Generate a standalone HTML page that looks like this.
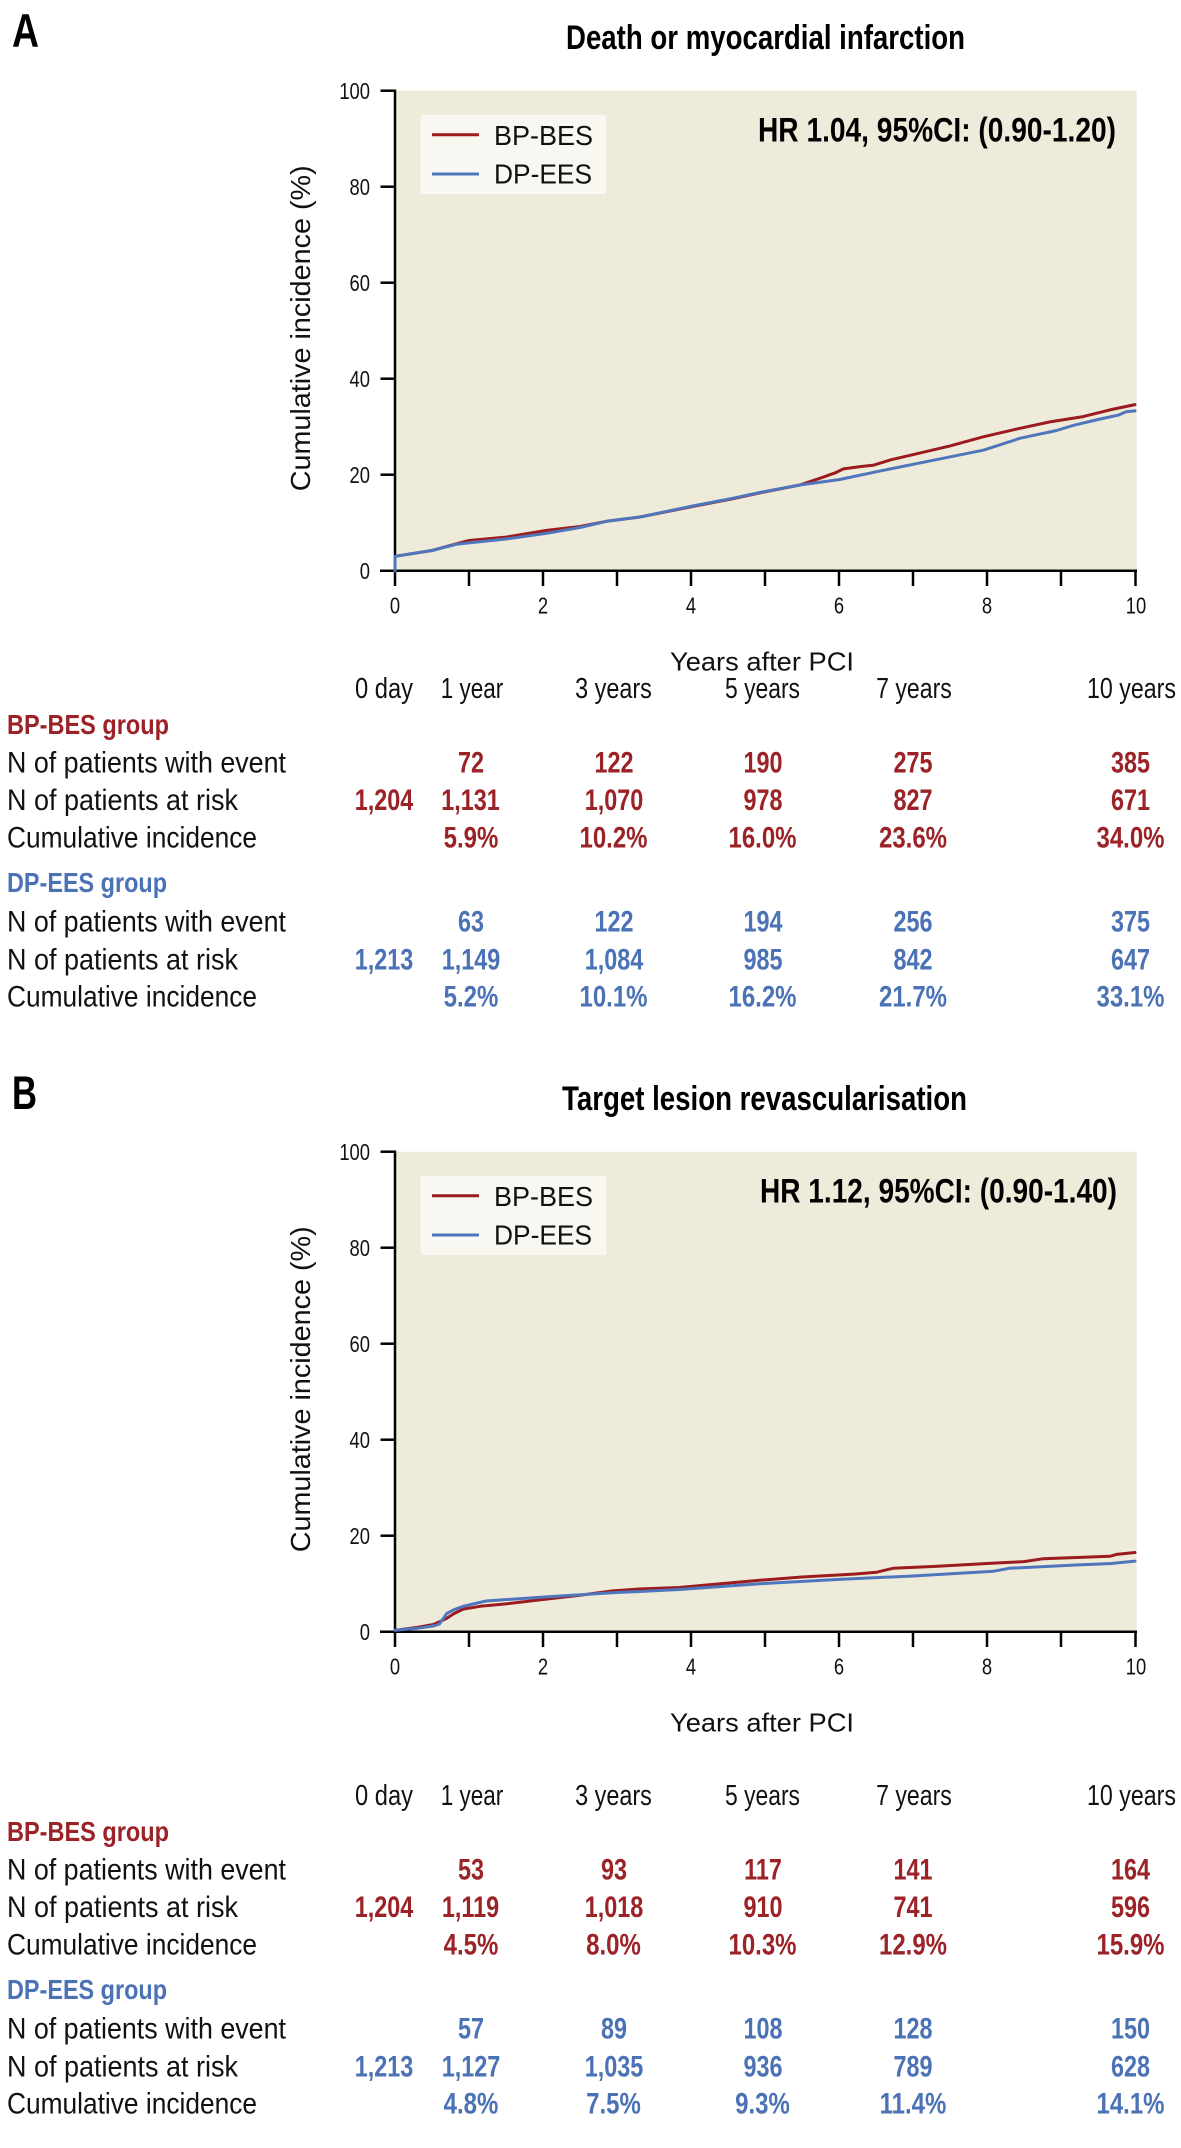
<!DOCTYPE html>
<html><head><meta charset="utf-8">
<style>
html,body{margin:0;padding:0;background:#fff;}
svg{display:block;}
text{font-family:"Liberation Sans",sans-serif;}
.n{font-size:30px;font-weight:bold;text-anchor:middle;}
.rd{fill:#9b2226;}
.bl{fill:#4a72b5;}
.tk{font-size:23px;fill:#111;}
.lab{font-size:30px;fill:#111;}
.hd{font-size:29px;fill:#111;text-anchor:middle;}
</style></head>
<body>
<svg width="1181" height="2148" viewBox="0 0 1181 2148" xmlns="http://www.w3.org/2000/svg">
<defs>
<g id="axes">
  <rect x="395" y="90.7" width="741.7" height="480" fill="#efebdb"/>
  <g stroke="#000" stroke-width="2.5" fill="none">
    <line x1="395" y1="89.5" x2="395" y2="586"/>
    <line x1="380" y1="570.7" x2="1137" y2="570.7"/>
    <line x1="380.5" y1="90.7" x2="395" y2="90.7"/>
    <line x1="380.5" y1="186.7" x2="395" y2="186.7"/>
    <line x1="380.5" y1="282.7" x2="395" y2="282.7"/>
    <line x1="380.5" y1="378.7" x2="395" y2="378.7"/>
    <line x1="380.5" y1="474.7" x2="395" y2="474.7"/>
    <line x1="469" y1="570.7" x2="469" y2="586"/>
    <line x1="543" y1="570.7" x2="543" y2="586"/>
    <line x1="617" y1="570.7" x2="617" y2="586"/>
    <line x1="691" y1="570.7" x2="691" y2="586"/>
    <line x1="765" y1="570.7" x2="765" y2="586"/>
    <line x1="839" y1="570.7" x2="839" y2="586"/>
    <line x1="913" y1="570.7" x2="913" y2="586"/>
    <line x1="987" y1="570.7" x2="987" y2="586"/>
    <line x1="1061" y1="570.7" x2="1061" y2="586"/>
    <line x1="1135.5" y1="570.7" x2="1135.5" y2="586"/>
  </g>
  <g class="tk" text-anchor="end">
    <text transform="translate(370,99.2) scale(0.8,1)">100</text>
    <text transform="translate(370,195.2) scale(0.8,1)">80</text>
    <text transform="translate(370,291.2) scale(0.8,1)">60</text>
    <text transform="translate(370,387.2) scale(0.8,1)">40</text>
    <text transform="translate(370,483.2) scale(0.8,1)">20</text>
    <text transform="translate(370,579.2) scale(0.8,1)">0</text>
  </g>
  <g class="tk" text-anchor="middle">
    <text transform="translate(395,613.3) scale(0.8,1)">0</text>
    <text transform="translate(543,613.3) scale(0.8,1)">2</text>
    <text transform="translate(691,613.3) scale(0.8,1)">4</text>
    <text transform="translate(839,613.3) scale(0.8,1)">6</text>
    <text transform="translate(987,613.3) scale(0.8,1)">8</text>
    <text transform="translate(1136,613.3) scale(0.8,1)">10</text>
  </g>
  <text transform="translate(310,328.3) rotate(-90)" text-anchor="middle" font-size="28" fill="#111" textLength="326" lengthAdjust="spacingAndGlyphs">Cumulative incidence (%)</text>
  <text x="670" y="670.7" font-size="26" fill="#111" textLength="184" lengthAdjust="spacingAndGlyphs">Years after PCI</text>
  <rect x="420.7" y="115" width="185.3" height="79" fill="#f8f7f1"/>
  <line x1="432" y1="134.7" x2="479" y2="134.7" stroke="#9b1b1e" stroke-width="3"/>
  <line x1="432" y1="174" x2="479" y2="174" stroke="#4f76bd" stroke-width="3"/>
  <text x="494" y="145" font-size="27.5" fill="#111" textLength="99" lengthAdjust="spacingAndGlyphs">BP-BES</text>
  <text x="494" y="183.3" font-size="27.5" fill="#111" textLength="98" lengthAdjust="spacingAndGlyphs">DP-EES</text>
</g>
<g id="tbl">
  <text class="hd" x="384" y="698" textLength="58" lengthAdjust="spacingAndGlyphs">0 day</text>
  <text class="hd" x="472" y="698" textLength="62.6" lengthAdjust="spacingAndGlyphs">1 year</text>
  <text class="hd" x="613.5" y="698" textLength="76.7" lengthAdjust="spacingAndGlyphs">3 years</text>
  <text class="hd" x="762.5" y="698" textLength="75" lengthAdjust="spacingAndGlyphs">5 years</text>
  <text class="hd" x="914" y="698" textLength="75.7" lengthAdjust="spacingAndGlyphs">7 years</text>
  <text class="hd" x="1131.5" y="698" textLength="89" lengthAdjust="spacingAndGlyphs">10 years</text>
  <text x="7" y="734" font-size="28" font-weight="bold" class="rd" textLength="162" lengthAdjust="spacingAndGlyphs">BP-BES group</text>
  <text class="lab" x="7" y="772.7" textLength="279" lengthAdjust="spacingAndGlyphs">N of patients with event</text>
  <text class="lab" x="7" y="810" textLength="231" lengthAdjust="spacingAndGlyphs">N of patients at risk</text>
  <text class="lab" x="7" y="847.7" textLength="250" lengthAdjust="spacingAndGlyphs">Cumulative incidence</text>
  <text x="7" y="892" font-size="28" font-weight="bold" class="bl" textLength="160" lengthAdjust="spacingAndGlyphs">DP-EES group</text>
  <text class="lab" x="7" y="931.7" textLength="279" lengthAdjust="spacingAndGlyphs">N of patients with event</text>
  <text class="lab" x="7" y="969.3" textLength="231" lengthAdjust="spacingAndGlyphs">N of patients at risk</text>
  <text class="lab" x="7" y="1006.7" textLength="250" lengthAdjust="spacingAndGlyphs">Cumulative incidence</text>
</g>
</defs>

<!-- Panel A -->
<text x="12" y="47" font-size="47" font-weight="bold" fill="#000" textLength="27" lengthAdjust="spacingAndGlyphs">A</text>
<text x="566" y="49" font-size="34" font-weight="bold" fill="#000" textLength="399" lengthAdjust="spacingAndGlyphs">Death or myocardial infarction</text>
<use href="#axes"/>
<text x="758" y="141.7" font-size="34" font-weight="bold" fill="#000" textLength="358" lengthAdjust="spacingAndGlyphs">HR 1.04, 95%CI: (0.90-1.20)</text>
<g fill="none" stroke-width="3" stroke-linejoin="round" stroke-linecap="round">
<polyline stroke="#9b1b1e" points="395,570.7 395,556.3 432,550.5 456.4,543.8 469,540.5 506,537.1 546.7,530.4 580,526.5 606.6,521.3 640,517.0 693.2,506.4 733.2,498.7 759.8,492.9 799.8,485.0 819.8,478.3 835.3,472.8 843.4,468.9 861.2,466.5 873.8,465.1 890.8,459.8 919.7,453.1 950,445.9 983.3,436.8 1016.6,429.1 1049.9,421.9 1083.2,416.6 1109.8,409.9 1135,404.6"/>
<polyline stroke="#4f76bd" points="395,570.7 395,556.3 432,550.5 456.4,544.3 469,542.9 506,539.0 546.7,533.3 580,527.5 606.6,521.3 640,517.0 693.2,505.9 733.2,498.2 759.8,492.5 799.8,485.0 839.7,479.5 876,471.8 933,460.3 983.3,450.2 1020.3,438.2 1056.6,430.5 1073.6,425.3 1098,419.5 1118,415.2 1126.1,411.8 1135,410.9"/>
</g>
<use href="#tbl"/>
<g class="n rd">
  <text transform="translate(471,772.7) scale(0.78,1)">72</text>
  <text transform="translate(614,772.7) scale(0.78,1)">122</text>
  <text transform="translate(763,772.7) scale(0.78,1)">190</text>
  <text transform="translate(913,772.7) scale(0.78,1)">275</text>
  <text transform="translate(1130.5,772.7) scale(0.78,1)">385</text>
  <text transform="translate(384,810) scale(0.78,1)">1,204</text>
  <text transform="translate(470.5,810) scale(0.78,1)">1,131</text>
  <text transform="translate(614,810) scale(0.78,1)">1,070</text>
  <text transform="translate(763,810) scale(0.78,1)">978</text>
  <text transform="translate(913,810) scale(0.78,1)">827</text>
  <text transform="translate(1130.5,810) scale(0.78,1)">671</text>
  <text transform="translate(471,847.7) scale(0.8,1)">5.9%</text>
  <text transform="translate(613.5,847.7) scale(0.8,1)">10.2%</text>
  <text transform="translate(762.5,847.7) scale(0.8,1)">16.0%</text>
  <text transform="translate(913,847.7) scale(0.8,1)">23.6%</text>
  <text transform="translate(1130.5,847.7) scale(0.8,1)">34.0%</text>
</g>
<g class="n bl">
  <text transform="translate(471,931.7) scale(0.78,1)">63</text>
  <text transform="translate(614,931.7) scale(0.78,1)">122</text>
  <text transform="translate(763,931.7) scale(0.78,1)">194</text>
  <text transform="translate(913,931.7) scale(0.78,1)">256</text>
  <text transform="translate(1130.5,931.7) scale(0.78,1)">375</text>
  <text transform="translate(384,969.3) scale(0.78,1)">1,213</text>
  <text transform="translate(471,969.3) scale(0.78,1)">1,149</text>
  <text transform="translate(614,969.3) scale(0.78,1)">1,084</text>
  <text transform="translate(763,969.3) scale(0.78,1)">985</text>
  <text transform="translate(913,969.3) scale(0.78,1)">842</text>
  <text transform="translate(1130.5,969.3) scale(0.78,1)">647</text>
  <text transform="translate(471,1006.7) scale(0.8,1)">5.2%</text>
  <text transform="translate(613.5,1006.7) scale(0.8,1)">10.1%</text>
  <text transform="translate(762.5,1006.7) scale(0.8,1)">16.2%</text>
  <text transform="translate(913,1006.7) scale(0.8,1)">21.7%</text>
  <text transform="translate(1130.5,1006.7) scale(0.8,1)">33.1%</text>
</g>

<!-- Panel B -->
<text x="12" y="1109" font-size="47" font-weight="bold" fill="#000" textLength="25" lengthAdjust="spacingAndGlyphs">B</text>
<text x="562" y="1110" font-size="34" font-weight="bold" fill="#000" textLength="405" lengthAdjust="spacingAndGlyphs">Target lesion revascularisation</text>
<g transform="translate(0,1061)">
<use href="#axes"/>
<text x="760" y="141.7" font-size="34" font-weight="bold" fill="#000" textLength="357" lengthAdjust="spacingAndGlyphs">HR 1.12, 95%CI: (0.90-1.40)</text>
<g fill="none" stroke-width="3" stroke-linejoin="round" stroke-linecap="round">
<polyline stroke="#9b1b1e" points="395,569.3 417.2,566.4 433.5,563.5 446.8,557.3 454.2,552.5 463.1,548.1 480.1,545.3 506,542.9 546,538.1 580,534.2 612.6,529.9 639.2,528.0 679.2,526.5 720.6,522.7 759.8,519.3 802,516.0 853.8,513.1 876.7,511.2 893,507.3 935.2,505.4 993.7,502.1 1024,500.6 1043.2,497.7 1083.2,496.3 1109.8,495.3 1116.5,493.4 1135,491.5"/>
<polyline stroke="#4f76bd" points="395,569.3 417.2,567.3 433.5,564.9 439.4,563.0 446.8,552.5 454.2,548.6 463.1,545.3 486,540.0 546,535.9 612.6,531.8 679.2,528.5 759.8,522.7 839,518.4 913,515.0 993.7,510.2 1009.2,507.3 1075.8,504.0 1111.3,502.5 1135,500.1"/>
</g>
</g>
<g transform="translate(0,1107)">
<use href="#tbl"/>
<g class="n rd">
  <text transform="translate(471,772.7) scale(0.78,1)">53</text>
  <text transform="translate(614,772.7) scale(0.78,1)">93</text>
  <text transform="translate(763,772.7) scale(0.78,1)">117</text>
  <text transform="translate(913,772.7) scale(0.78,1)">141</text>
  <text transform="translate(1130.5,772.7) scale(0.78,1)">164</text>
  <text transform="translate(384,810) scale(0.78,1)">1,204</text>
  <text transform="translate(470.5,810) scale(0.78,1)">1,119</text>
  <text transform="translate(614,810) scale(0.78,1)">1,018</text>
  <text transform="translate(763,810) scale(0.78,1)">910</text>
  <text transform="translate(913,810) scale(0.78,1)">741</text>
  <text transform="translate(1130.5,810) scale(0.78,1)">596</text>
  <text transform="translate(471,847.7) scale(0.8,1)">4.5%</text>
  <text transform="translate(613.5,847.7) scale(0.8,1)">8.0%</text>
  <text transform="translate(762.5,847.7) scale(0.8,1)">10.3%</text>
  <text transform="translate(913,847.7) scale(0.8,1)">12.9%</text>
  <text transform="translate(1130.5,847.7) scale(0.8,1)">15.9%</text>
</g>
<g class="n bl">
  <text transform="translate(471,931.7) scale(0.78,1)">57</text>
  <text transform="translate(614,931.7) scale(0.78,1)">89</text>
  <text transform="translate(763,931.7) scale(0.78,1)">108</text>
  <text transform="translate(913,931.7) scale(0.78,1)">128</text>
  <text transform="translate(1130.5,931.7) scale(0.78,1)">150</text>
  <text transform="translate(384,969.3) scale(0.78,1)">1,213</text>
  <text transform="translate(471,969.3) scale(0.78,1)">1,127</text>
  <text transform="translate(614,969.3) scale(0.78,1)">1,035</text>
  <text transform="translate(763,969.3) scale(0.78,1)">936</text>
  <text transform="translate(913,969.3) scale(0.78,1)">789</text>
  <text transform="translate(1130.5,969.3) scale(0.78,1)">628</text>
  <text transform="translate(471,1006.7) scale(0.8,1)">4.8%</text>
  <text transform="translate(613.5,1006.7) scale(0.8,1)">7.5%</text>
  <text transform="translate(762.5,1006.7) scale(0.8,1)">9.3%</text>
  <text transform="translate(913,1006.7) scale(0.8,1)">11.4%</text>
  <text transform="translate(1130.5,1006.7) scale(0.8,1)">14.1%</text>
</g>
</g>
</svg>
</body></html>
